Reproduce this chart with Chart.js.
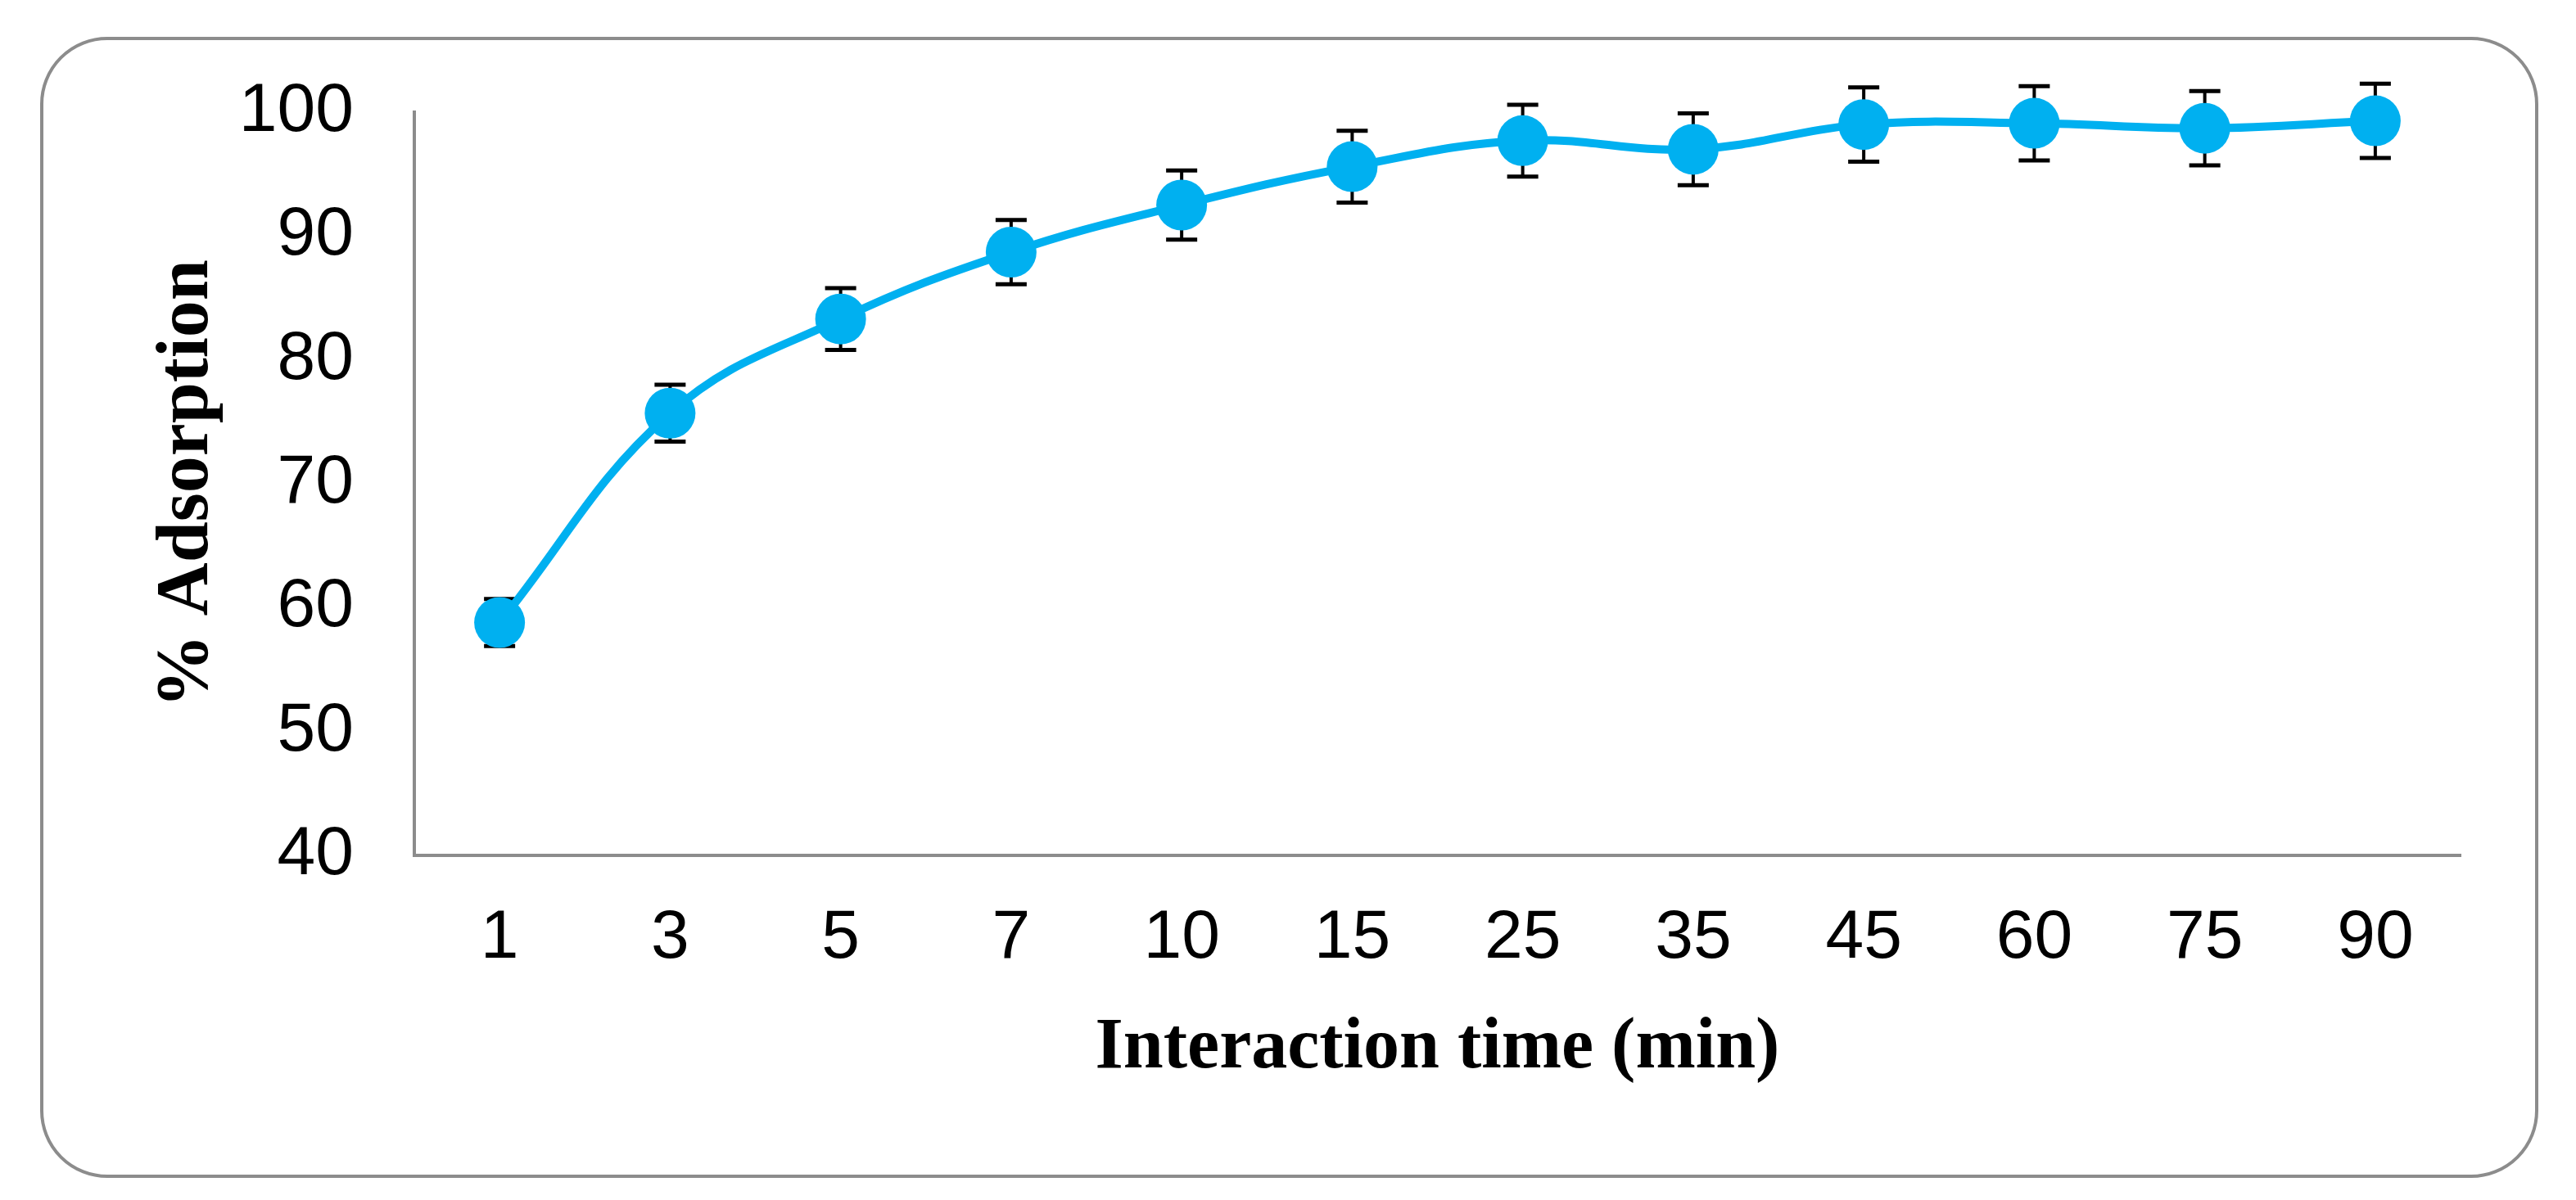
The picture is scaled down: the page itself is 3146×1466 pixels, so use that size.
<!DOCTYPE html>
<html>
<head>
<meta charset="utf-8">
<script src="https://cdn.jsdelivr.net/npm/chart.js@4"></script>
<style>
  html, body { margin: 0; padding: 0; background: #fff; }
  canvas { display: block; }
</style>
</head>
<body>
<canvas id="chart" width="3146" height="1466"></canvas>
<script>
const times = ['1', '3', '5', '7', '10', '15', '25', '35', '45', '60', '75', '90'];
const adsorption = [58.8, 75.7, 83.3, 88.7, 92.5, 95.6, 97.7, 97.0, 99.0, 99.1, 98.7, 99.3];
const errors = [1.9, 2.3, 2.5, 2.6, 2.8, 2.9, 2.9, 2.9, 3.0, 3.0, 3.0, 3.0];
const yTicks = { min: 40, max: 100, step: 10 };

const lineBlue = '#00B0F0';
const axisGrey = '#8c8c8c';
const serif = '"Liberation Serif", "Times New Roman", serif';
const sans = '"Liberation Sans", Arial, sans-serif';

// rounded frame around the whole figure
const frame = {
  id: 'frame',
  beforeDraw(chart) {
    const { ctx } = chart;
    ctx.save();
    ctx.fillStyle = '#fff';
    ctx.fillRect(0, 0, chart.width, chart.height);
    ctx.strokeStyle = axisGrey;
    ctx.lineWidth = 4;
    ctx.beginPath();
    ctx.roundRect(51, 47, 3047, 1390, 80);
    ctx.stroke();
    ctx.restore();
  },
};

// vertical error bars with caps, under the line and markers
const errorBars = {
  id: 'errorBars',
  beforeDatasetsDraw(chart) {
    const { ctx } = chart;
    const y = chart.scales.y;
    const meta = chart.getDatasetMeta(0);
    ctx.save();
    ctx.strokeStyle = '#000';
    meta.data.forEach((pt, i) => {
      const top = y.getPixelForValue(adsorption[i] + errors[i]);
      const bottom = y.getPixelForValue(adsorption[i] - errors[i]);
      ctx.lineWidth = 4;
      ctx.beginPath();
      ctx.moveTo(pt.x, top);
      ctx.lineTo(pt.x, bottom);
      ctx.stroke();
      ctx.lineWidth = 5;
      ctx.beginPath();
      ctx.moveTo(pt.x - 19, top);
      ctx.lineTo(pt.x + 19, top);
      ctx.moveTo(pt.x - 19, bottom);
      ctx.lineTo(pt.x + 19, bottom);
      ctx.stroke();
    });
    ctx.restore();
  },
};

// eslint-disable-next-line no-new
new Chart(document.getElementById('chart'), {
  type: 'line',
  data: {
    labels: times,
    datasets: [
      {
        data: adsorption,
        borderColor: lineBlue,
        borderWidth: 10,
        tension: 0.4,
        pointRadius: 31,
        pointBackgroundColor: lineBlue,
        pointBorderWidth: 0,
        clip: false,
      },
    ],
  },
  options: {
    responsive: false,
    animation: false,
    devicePixelRatio: 1,
    layout: {
      padding: { left: 0, right: 141, top: 137, bottom: 0 },
    },
    plugins: {
      legend: { display: false },
      tooltip: { enabled: false },
    },
    scales: {
      x: {
        offset: true,
        afterFit(scale) {
          scale.height = 421;
        },
        grid: { display: false, drawTicks: false },
        border: { display: true, color: axisGrey, width: 4 },
        ticks: {
          color: '#000',
          padding: 51,
          font: { family: sans, size: 84 },
        },
        title: {
          display: true,
          text: 'Interaction time (min)',
          color: '#000',
          padding: { top: 0, bottom: 132 },
          font: { family: serif, size: 88, weight: 'bold' },
        },
      },
      y: {
        min: yTicks.min,
        max: yTicks.max,
        afterFit(scale) {
          scale.width = 506;
        },
        grid: { display: false, drawTicks: false },
        border: { display: true, color: axisGrey, width: 4 },
        ticks: {
          stepSize: yTicks.step,
          color: '#000',
          padding: 74,
          font: { family: sans, size: 84 },
        },
        title: {
          display: true,
          text: '% Adsorption',
          color: '#000',
          padding: { top: 176, bottom: 0 },
          font: { family: serif, size: 90, weight: 'bold' },
        },
      },
    },
  },
  plugins: [frame, errorBars],
});
</script>
</body>
</html>
